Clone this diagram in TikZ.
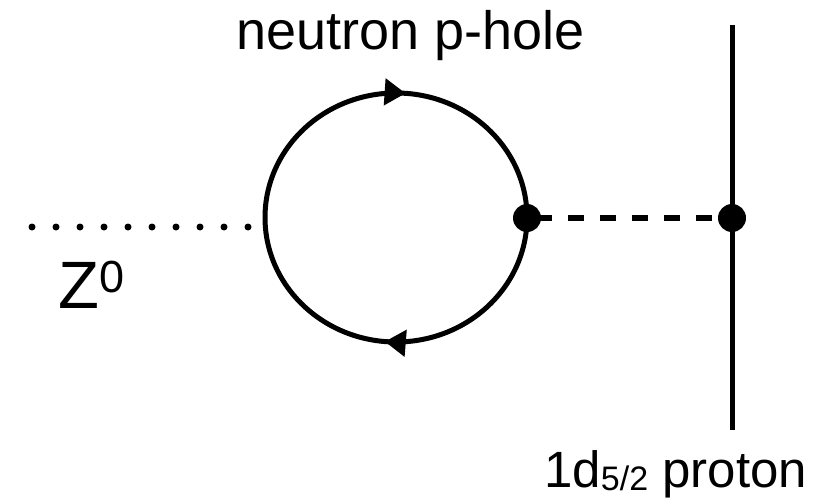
\documentclass[tikz,border=0pt]{standalone}
\usepackage{fontspec}
\setmainfont{Liberation Sans}
\usetikzlibrary{arrows.meta,decorations.markings}
\begin{document}
\begin{tikzpicture}[x=1pt,y=-1pt,
  lbl/.style={inner sep=0pt, anchor=base west},
  vertexdot/.style={circle, fill=black, inner sep=0pt, minimum size=28pt},
  fermion/.style={line width=5pt, postaction={decorate},
    decoration={markings,
      mark=at position 0.264 with {\arrow{Triangle[length=21pt,width=26pt]}},
      mark=at position 0.762 with {\arrow{Triangle[length=21pt,width=26pt]}}}},
  zline/.style={line width=7pt, line cap=round, dash pattern=on 0pt off 24pt},
  phonon/.style={line width=6.5pt, dash pattern=on 16pt off 16pt, dash phase=23pt},
  protonline/.style={line width=5pt}
]
\useasboundingbox (0,0) rectangle (835,500);
% coordinates
\coordinate (loopR) at (527,217.5);
\coordinate (zL) at (32,227);
\coordinate (zR) at (250,227);
\coordinate (vaC) at (527,218);
\coordinate (vbC) at (732,218);
\coordinate (pT) at (732,25);
\coordinate (pB) at (732,430);
% lines
\draw[zline] (zL) -- (zR);
\draw[fermion] (loopR) arc[start angle=0, end angle=360, x radius=131, y radius=124.5];
\draw[protonline] (pT) -- (pB);
\draw[phonon] (vaC) -- (vbC);
% vertices
\node[vertexdot] (va) at (vaC) {};
\node[vertexdot] (vb) at (vbC) {};
% labels
\node[lbl] (nlabel) at (236.5,50) {\fontsize{54}{60}\selectfont neutron p-hole};
\node[lbl] (zlabel) at (58,308) {\fontsize{67}{70}\selectfont Z\raisebox{16pt}{\fontsize{45}{48}\selectfont 0}};
\node[lbl] (plabel) at (544,487) {\fontsize{51}{56}\selectfont 1d\raisebox{-3pt}{\fontsize{34}{38}\selectfont 5/2} proton};
\end{tikzpicture}
\end{document}
